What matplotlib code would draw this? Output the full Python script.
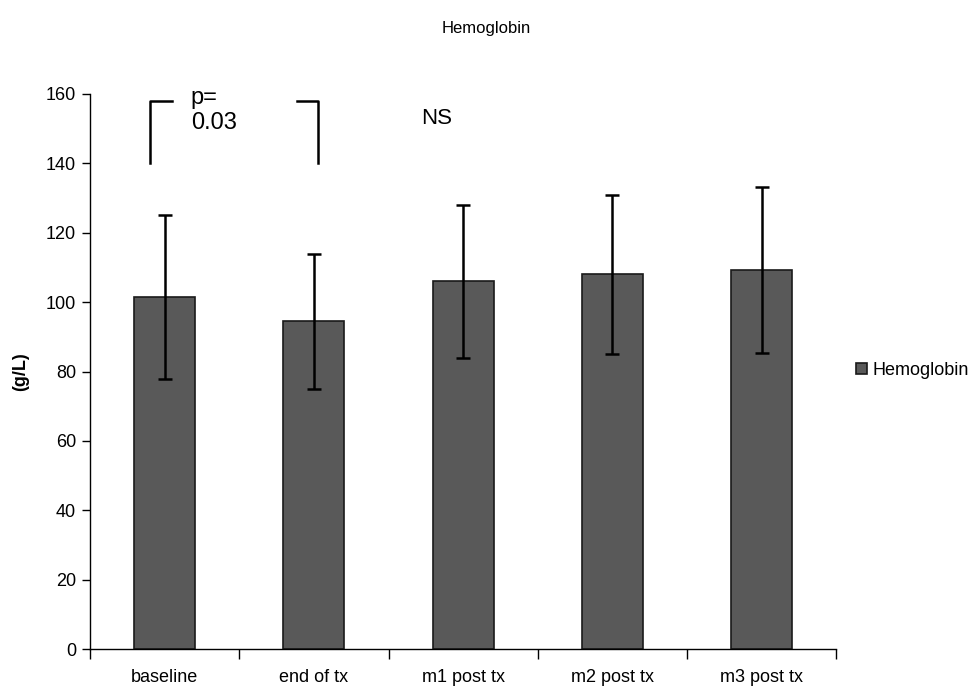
import matplotlib
matplotlib.use("Agg")
import matplotlib.pyplot as plt
import numpy as np

categories = ["baseline", "end of tx", "m1 post tx", "m2 post tx", "m3 post tx"]
values = [101.5, 94.5, 106, 108, 109.3]
errors = [23.5, 19.5, 22, 23, 24]
yticks = [0, 20, 40, 60, 80, 100, 120, 140, 160]

plt.rcParams['font.family'] = ['Liberation Sans', 'DejaVu Sans']

fig = plt.figure(figsize=(9.73, 6.90), dpi=100)
ax = fig.add_axes([0.0925, 0.059, 0.767, 0.805])

x = np.arange(len(categories))
ax.bar(x, values, width=0.41, color='#595959', edgecolor='#1a1a1a', linewidth=1.2,
       label='Hemoglobin', zorder=2)
ax.errorbar(x, values, yerr=errors, fmt='none', ecolor='black', elinewidth=1.8,
            capsize=5, capthick=1.8, zorder=3)

ax.set_xlim(-0.5, len(categories) - 0.5)
ax.set_ylim(0, 160)
ax.set_yticks(yticks)
ax.set_yticklabels([str(t) for t in yticks], fontsize=13)
ax.set_xticks(np.arange(-0.5, len(categories), 1.0))
ax.set_xticklabels([])
ax.set_xticks(x, minor=True)
ax.set_xticklabels(categories, minor=True, fontsize=13)
ax.tick_params(axis='x', which='major', direction='out', length=7, width=1)
ax.tick_params(axis='x', which='minor', length=0, pad=14)
ax.tick_params(axis='y', direction='out', length=6, width=1, pad=4)
for s in ['top', 'right']:
    ax.spines[s].set_visible(False)
ax.spines['left'].set_linewidth(1)
ax.spines['bottom'].set_linewidth(1)

ax.set_ylabel('(g/L)', fontsize=13, fontweight='bold', labelpad=12)

# significance bracket
ax.plot([-0.1, -0.1, 0.05], [140, 158, 158], color='black', lw=1.8, clip_on=False)
ax.plot([0.89, 1.03, 1.03], [158, 158, 140], color='black', lw=1.8, clip_on=False)
ax.text(0.175, 162, 'p=\n0.03', fontsize=17, va='top', ha='left', linespacing=1.2)
ax.text(1.82, 153, 'NS', fontsize=16, va='center', ha='center')

fig.text(0.5, 0.958, 'Hemoglobin', ha='center', va='center', fontsize=12)

fig.legend(loc='center right', bbox_to_anchor=(0.996, 0.463), frameon=False,
           handlelength=0.6, handleheight=0.6, handletextpad=0.3, fontsize=13,
           borderaxespad=0, borderpad=0)

fig.savefig('out.png', dpi=100)
